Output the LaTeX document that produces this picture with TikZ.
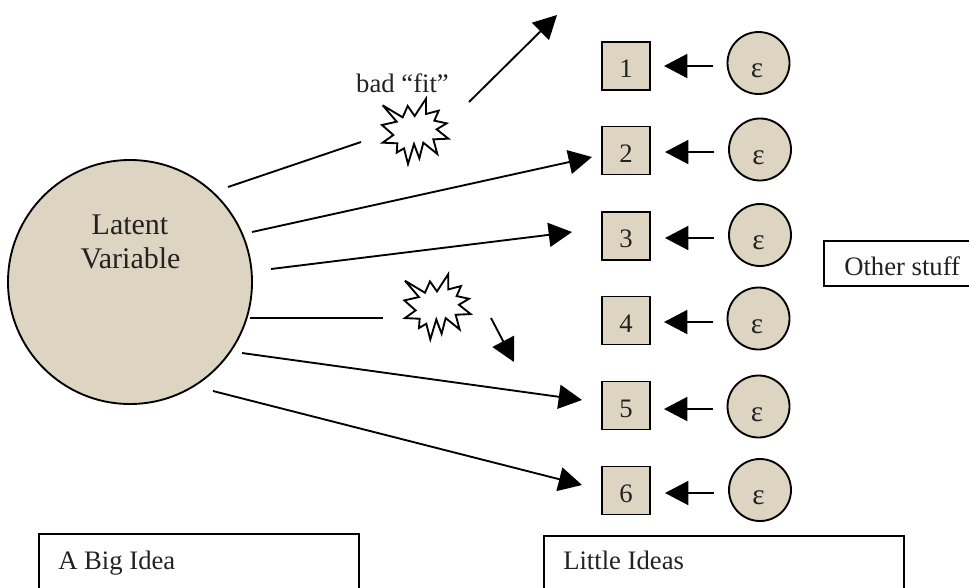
\documentclass[tikz,border=0pt]{standalone}
\usepackage{fontspec}
\setmainfont{Liberation Serif}
\usetikzlibrary{arrows.meta}
\definecolor{tan}{HTML}{DDD5C1}
\definecolor{ink}{HTML}{222222}
\tikzset{
  x=0.75pt,y=-0.75pt,
  lbl/.style={font=\fontsize{20}{24}\selectfont,text=ink,inner sep=0pt},
  biglbl/.style={font=\fontsize{22.5}{27}\selectfont,text=ink,inner sep=0pt,anchor=base},
  eps/.style={font=\fontsize{22}{26}\selectfont,text=ink,inner sep=0pt},
  sq/.style={draw=black,fill=tan,line width=1.4pt,minimum size=36pt,inner sep=0pt,font=\fontsize{20}{24}\selectfont,text=ink},
  errc/.style={draw=black,fill=tan,circle,line width=1.4pt,minimum size=46.5pt,inner sep=0pt},
  bigc/.style={draw=black,fill=tan,circle,line width=1.4pt,minimum size=183pt,inner sep=0pt},
  cbox/.style={draw=black,line width=1.4pt},
  conn/.style={draw=black,line width=1.4pt},
  tipped/.style={conn,-{Triangle[length=17.5pt,width=18pt]}},
  burst/.style={draw=black,fill=white,line width=1.4pt,line join=miter,miter limit=4}
}
\newcommand{\burstshape}[2]{%
  \draw[burst,shift={(#1,#2)},x=0.25pt,y=-0.25pt]
   (128,316)--(188,352)--(203,318)--(224,348)--(258,296)--(258,342)--(296,332)--(283,362)--(320,370)--(290,388)--(325,416)--(280,418)--(292,462)--(250,428)--(238,475)--(222,432)--(204,492)--(192,445)--(170,458)--(172,430)--(128,428)--(160,405)--(126,375)--(170,365)--cycle;}
\begin{document}
\begin{tikzpicture}
\clip (0,0) rectangle (969,587);
\fill[white] (0,0) rectangle (969,587);

\node[bigc] (L) at (130,282) {};
\node[biglbl] (Ltxt1) at (130,234) {Latent};
\node[biglbl] (Ltxt2) at (130.5,268) {Variable};

\foreach \i/\sy/\cx/\cy/\ay/\ax in {1/66/758.5/63/66/0,2/150.5/760/149.5/152/1,3/236/760/235/238/1,4/320.5/758.5/318.5/322/0,5/405.5/758.5/406.5/409/0,6/490.5/760/490/493/1}{
  \node[sq] (s\i) at (626,\sy) {\raisebox{-8.75pt}[0pt][0pt]{\i}};
  \node[errc] (e\i) at (\cx,\cy) {};
  \node[eps] (t\i) at (\cx-1.5,\cy+8) {ε};
  \coordinate (af\i) at (713+\ax,\ay);
  \coordinate (at\i) at (664+\ax,\ay);
  \draw[tipped] (af\i) -- (at\i);
}

% connectors from the latent variable
\coordinate (a0) at (228,187); \coordinate (a1) at (361,142);
\coordinate (b0) at (469,102); \coordinate (b1) at (557,15);
\coordinate (c0) at (252,232); \coordinate (c1) at (592,157);
\coordinate (d0) at (271,269); \coordinate (d1) at (572,232);
\coordinate (f0) at (250,318); \coordinate (f1) at (383,318);
\coordinate (g0) at (491,318); \coordinate (g1) at (514,362);
\coordinate (h0) at (242,353); \coordinate (h1) at (582,400);
\coordinate (i0) at (213,391); \coordinate (i1) at (582,485);
\draw[conn] (a0) -- (a1);
\draw[tipped] (b0) -- (b1);
\draw[tipped] (c0) -- (c1);
\draw[tipped] (d0) -- (d1);
\draw[conn] (f0) -- (f1);
\draw[tipped] (g0) -- (g1);
\draw[tipped] (h0) -- (h1);
\draw[tipped] (i0) -- (i1);

\burstshape{340}{0}
\burstshape{362.3}{175.4}
\node[lbl,anchor=base] (bad) at (402.5,92) {bad “fit”};

\draw[cbox] (39,534) rectangle (359,600);
\node[lbl,anchor=base west] (big) at (58,569) {A Big Idea};
\draw[cbox] (544,536) rectangle (904,600);
\node[lbl,anchor=base west] (little) at (563,569) {Little Ideas};
\draw[cbox] (824,241) rectangle (980,286);
\node[lbl,anchor=base west] (other) at (844,275) {Other stuff};
\end{tikzpicture}
\end{document}
